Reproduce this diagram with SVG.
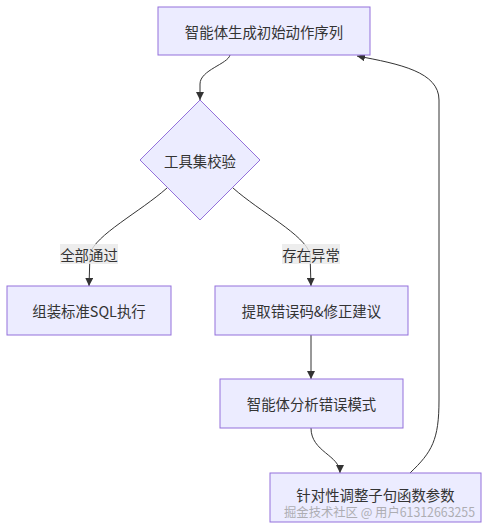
<svg xmlns="http://www.w3.org/2000/svg" width="489" height="528" viewBox="0 0 489 528">
<style>
.n{fill:#ECECFF;stroke:#9370DB;stroke-width:1}
.t{font-family:"Noto Sans CJK SC","Liberation Sans",sans-serif;font-size:14.4px;fill:#333;text-anchor:middle;dominant-baseline:central}
.e{fill:none;stroke:#333;stroke-width:1}
.lb{fill:#e8e8e8;opacity:0.8}
.wm{font-family:"Noto Sans CJK SC","Liberation Sans",sans-serif;font-size:12.5px;fill:#999;opacity:0.75}
</style>
<defs>
<marker id="a" viewBox="0 0 10 10" refX="10" refY="5" markerWidth="8" markerHeight="8" orient="auto-start-reverse" markerUnits="userSpaceOnUse">
<path d="M0,0 L10,5 L0,10 z" fill="#333"/>
</marker>
</defs>
<g id="edges">
<path class="e" d="M230,55 C228,64 200,70 200,84 L200,100" marker-end="url(#a)"/>
<path class="e" d="M167,188 C140,212 95,235 90,254 L89,286" marker-end="url(#a)"/>
<path class="e" d="M233,188 C260,212 305,235 310,254 L311,286" marker-end="url(#a)"/>
<path class="e" d="M311,335 L311,379" marker-end="url(#a)"/>
<path class="e" d="M311,428 C311,452 340,455 340,473" marker-end="url(#a)"/>
<path class="e" d="M410,473 C432,452 439,440 439,400 L439,100 C439,72 400,64 357,56" marker-end="url(#a)"/>
</g>
<g id="label1">
<rect class="lb" x="60" y="244" width="58" height="20"/>
<text class="t" x="89" y="254">全部通过</text>
</g>
<g id="label2">
<rect class="lb" x="282" y="244" width="58" height="20"/>
<text class="t" x="311" y="254">存在异常</text>
</g>
<g id="n1">
<rect class="n" x="158" y="7" width="212" height="48"/>
<text class="t" x="264" y="31">智能体生成初始动作序列</text>
</g>
<g id="n2">
<polygon class="n" points="200,100 260,160 200,220 140,160"/>
<text class="t" x="200" y="160">工具集校验</text>
</g>
<g id="n3">
<rect class="n" x="7" y="286" width="164" height="49"/>
<text class="t" x="89" y="310.5">组装标准SQL执行</text>
</g>
<g id="n4">
<rect class="n" x="215" y="286" width="193" height="49"/>
<text class="t" x="311.5" y="310.5">提取错误码&amp;修正建议</text>
</g>
<g id="n5">
<rect class="n" x="220" y="379" width="183" height="49"/>
<text class="t" x="311.5" y="403.5">智能体分析错误模式</text>
</g>
<g id="n6">
<rect class="n" x="270" y="473" width="211" height="49"/>
<text class="t" x="375.5" y="494">针对性调整子句函数参数</text>
</g>
<text class="wm" x="284" y="517" textLength="191" lengthAdjust="spacingAndGlyphs">掘金技术社区 @ 用户61312663255</text>
</svg>
